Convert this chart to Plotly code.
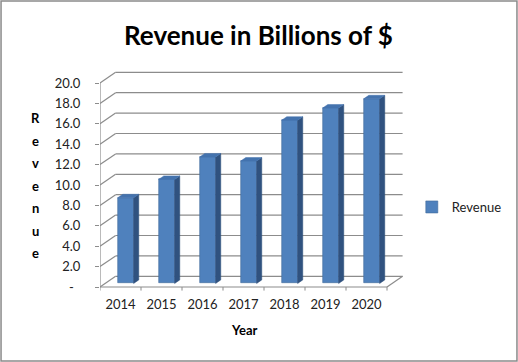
import plotly.graph_objects as go

years = ["2014", "2015", "2016", "2017", "2018", "2019", "2020"]
revenue = [8.4, 10.2, 12.4, 12.0, 16.0, 17.2, 18.1]
ytick_vals = [0, 2, 4, 6, 8, 10, 12, 14, 16, 18, 20]
ytick_text = ["-\u00a0\u00a0", "2.0", "4.0", "6.0", "8.0", "10.0", "12.0", "14.0", "16.0", "18.0", "20.0"]
ytitle_letters = list("Revenue")

FONT = "Lato, Liberation Sans, sans-serif"
FRONT = "#4F81BD"
SIDE = "#30527F"
TOP = "#4473AE"
GRID = "#8C8C8C"

W, H = 518, 362
n = len(years)
# 3D depth offsets (in axis units)
dx, dy = 0.38, 1.05
f0, fd = 0.33, 0.33
bw = 0.39
sx0, sy0 = dx * f0, dy * f0
ddx, ddy = dx * fd, dy * fd

xpos = [i + sx0 for i in range(n)]

fig = go.Figure()

# front faces
fig.add_trace(go.Bar(
    x=xpos, y=revenue, base=sy0, width=bw, name="Revenue",
    marker=dict(color=FRONT, line=dict(color="#41699A", width=0.6)),
    hoverinfo="skip", showlegend=True))

# side and top faces
sx, sy = [], []
tx, ty = [], []
for xc, v in zip(xpos, revenue):
    xl, xr = xc - bw / 2, xc + bw / 2
    sx += [xr, xr, xr + ddx, xr + ddx, xr, None]
    sy += [sy0, sy0 + v, sy0 + v + ddy, sy0 + ddy, sy0, None]
    tx += [xl, xr, xr + ddx, xl + ddx, xl, None]
    ty += [sy0 + v, sy0 + v, sy0 + v + ddy, sy0 + v + ddy, sy0 + v, None]
fig.add_trace(go.Scatter(x=sx, y=sy, fill="toself", fillcolor=SIDE, mode="lines",
                         line=dict(color=SIDE, width=0.5), hoverinfo="skip", showlegend=False))
fig.add_trace(go.Scatter(x=tx, y=ty, fill="toself", fillcolor=TOP, mode="lines",
                         line=dict(color=TOP, width=0.5), hoverinfo="skip", showlegend=False))

shapes = []
x_left, x_right = -0.5, n - 0.5
for v in ytick_vals:
    shapes.append(dict(type="line", xref="x", yref="y", x0=x_left, y0=v, x1=x_left + dx, y1=v + dy,
                       line=dict(color=GRID, width=1.2), layer="below"))
    shapes.append(dict(type="line", xref="x", yref="y", x0=x_left + dx, y0=v + dy, x1=x_right + dx, y1=v + dy,
                       line=dict(color=GRID, width=1.2), layer="below"))
shapes.append(dict(type="line", xref="x", yref="y", x0=x_left, y0=0, x1=x_right, y1=0,
                   line=dict(color=GRID, width=1.2), layer="below"))
shapes.append(dict(type="line", xref="x", yref="y", x0=x_right, y0=0, x1=x_right + dx, y1=dy,
                   line=dict(color=GRID, width=1.2), layer="below"))
shapes.append(dict(type="line", xref="x", yref="y", x0=x_left, y0=0, x1=x_left, y1=max(ytick_vals),
                   line=dict(color=GRID, width=1.2), layer="below"))
for i in range(n + 1):
    shapes.append(dict(type="line", xref="x", yref="y", x0=i - 0.5, y0=0, x1=i - 0.5, y1=-0.35,
                       line=dict(color=GRID, width=1), layer="below"))
shapes.append(dict(type="rect", xref="paper", yref="paper", x0=0.002, y0=0.003, x1=0.998, y1=0.997,
                   line=dict(color="#8A8A8A", width=1.5)))

annotations = [
    dict(text="<b>Revenue in Billions of $</b>", x=258 / W, y=1 - 35 / H, xref="paper", yref="paper",
         showarrow=False, font=dict(family=FONT, size=26, color="black"), xanchor="center", yanchor="middle"),
    dict(text="<b>Year</b>", x=244 / W, y=1 - 330 / H, xref="paper", yref="paper",
         showarrow=False, font=dict(family=FONT, size=13, color="black"), xanchor="center", yanchor="middle"),
]
for k, ch in enumerate(ytitle_letters):
    annotations.append(dict(text="<b>%s</b>" % ch, x=35 / W, y=1 - (118 + 22.5 * k) / H, xref="paper", yref="paper",
                            showarrow=False, font=dict(family=FONT, size=13, color="black"),
                            xanchor="center", yanchor="middle"))

fig.update_layout(
    width=W, height=H,
    margin=dict(l=0, r=0, t=0, b=0),
    paper_bgcolor="white", plot_bgcolor="white",
    bargap=0,
    shapes=shapes, annotations=annotations,
    legend=dict(x=0.795, y=1 - 207 / H, xanchor="left", yanchor="middle",
                font=dict(family=FONT, size=13, color="#222"), bgcolor="rgba(0,0,0,0)"),
    xaxis=dict(domain=[100 / W, 410 / W], range=[-0.5, -0.5 + 310 / 41], showgrid=False, zeroline=False,
               showline=False, tickmode="array", tickvals=list(range(n)), ticktext=years, ticks="",
               tickfont=dict(family=FONT, size=13, color="#222")),
    yaxis=dict(domain=[1 - 295 / H, 1 - 65 / H], range=[-8 / 10.2, 222 / 10.2], showgrid=False, zeroline=False,
               showline=False, tickmode="array", tickvals=ytick_vals, ticktext=ytick_text, ticks="outside",
               ticklen=4, tickcolor=GRID, tickwidth=1.2, ticklabelstandoff=12,
               tickfont=dict(family=FONT, size=13, color="#222")),
)

fig.write_html("out.html", config={"displayModeBar": False},
               post_script="document.body.style.margin='0px';document.body.style.overflow='hidden';")
